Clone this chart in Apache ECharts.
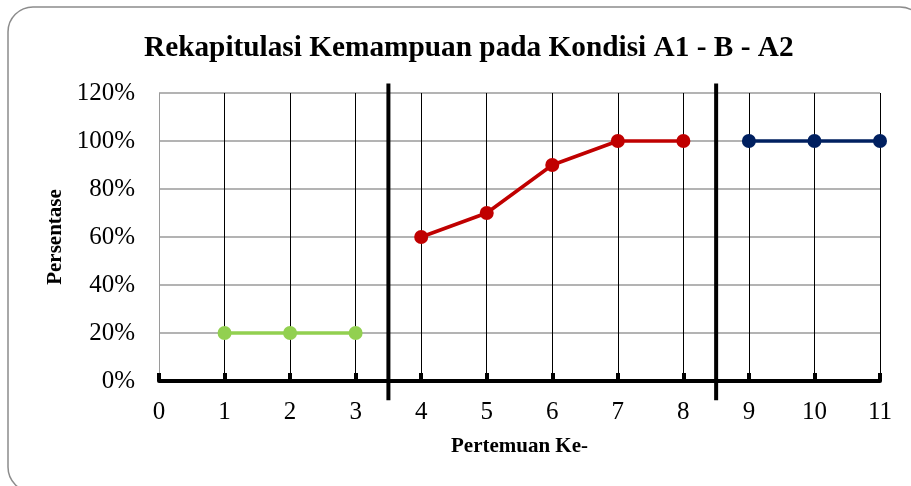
<!DOCTYPE html>
<html>
<head>
<meta charset="utf-8">
<script src="https://cdn.jsdelivr.net/npm/echarts@6/dist/echarts.min.js"></script>
<style>
  html, body { margin: 0; padding: 0; background: #fff; }
  #chart { width: 911px; height: 486px; }
</style>
</head>
<body>
<div id="chart"></div>
<script>
// data
var sessionsA1 = [1, 2, 3];
var valuesA1 = [0.2, 0.2, 0.2];
var sessionsB = [4, 5, 6, 7, 8];
var valuesB = [0.6, 0.7, 0.9, 1.0, 1.0];
var sessionsA2 = [9, 10, 11];
var valuesA2 = [1.0, 1.0, 1.0];
// phase change lines: x position, top and bottom (axis units)
var phaseLines = [[3.5, 1.24, -0.08], [8.5, 1.24, -0.08]];

function pairs(xs, ys) {
  var out = [];
  for (var i = 0; i < xs.length; i++) out.push([xs[i], ys[i]]);
  return out;
}

var serif = 'Liberation Serif';
var splitColors = ['#9a9a9a'];
for (var k = 1; k < 12; k++) splitColors.push('#000');

function lineSeries(name, data, color) {
  return {
    name: name,
    type: 'line',
    data: data,
    clip: false,
    z: 5,
    symbol: 'circle',
    symbolSize: 14,
    itemStyle: { color: color },
    lineStyle: { color: color, width: 3.5 }
  };
}

var chart = echarts.init(document.getElementById('chart'));
chart.setOption({
  animation: false,
  title: {
    text: 'Rekapitulasi Kemampuan pada Kondisi A1 - B - A2',
    left: 144,
    top: 34,
    padding: 0,
    textStyle: { fontFamily: serif, fontSize: 29.3, fontWeight: 'bold', color: '#000' }
  },
  graphic: [{
    type: 'rect',
    z: -1,
    shape: { x: 8, y: 7, width: 917, height: 485, r: 25 },
    style: { fill: 'none', stroke: '#8c8c8c', lineWidth: 1.5 }
  }],
  grid: { left: 159, right: 31, top: 93, bottom: 105 },
  xAxis: {
    type: 'value',
    min: 0,
    max: 11,
    interval: 1,
    name: 'Pertemuan Ke-',
    nameLocation: 'middle',
    nameGap: 55,
    nameTextStyle: { fontFamily: serif, fontSize: 21, fontWeight: 'bold', color: '#000' },
    axisLine: { show: true, onZero: false, lineStyle: { color: '#000', width: 4 } },
    axisTick: { show: true, inside: true, length: 8, lineStyle: { color: '#000', width: 4 } },
    axisLabel: { margin: 19, fontFamily: serif, fontSize: 25, color: '#000' },
    splitLine: { show: true, lineStyle: { color: splitColors, width: 1 } }
  },
  yAxis: {
    type: 'value',
    min: 0,
    max: 1.2,
    interval: 0.2,
    name: 'Persentase',
    nameLocation: 'middle',
    nameGap: 92,
    nameRotate: 90,
    nameTextStyle: { fontFamily: serif, fontSize: 21, fontWeight: 'bold', color: '#000' },
    axisLine: { show: false },
    axisTick: { show: false },
    axisLabel: {
      margin: 24,
      fontFamily: serif,
      fontSize: 25,
      color: '#000',
      formatter: function (v) { return Math.round(v * 100) + '%'; }
    },
    splitLine: { show: true, lineStyle: { color: '#9a9a9a', width: 1.5 } }
  },
  series: [
    {
      type: 'custom',
      z: 4,
      silent: true,
      data: phaseLines,
      renderItem: function (params, api) {
        var top = api.coord([api.value(0), api.value(1)]);
        var bot = api.coord([api.value(0), api.value(2)]);
        return {
          type: 'line',
          shape: { x1: top[0], y1: top[1], x2: bot[0], y2: bot[1] },
          style: { stroke: '#000', lineWidth: 4 }
        };
      }
    },
    lineSeries('A1', pairs(sessionsA1, valuesA1), '#92D050'),
    lineSeries('B', pairs(sessionsB, valuesB), '#C00000'),
    lineSeries('A2', pairs(sessionsA2, valuesA2), '#002060')
  ]
});
</script>
</body>
</html>
